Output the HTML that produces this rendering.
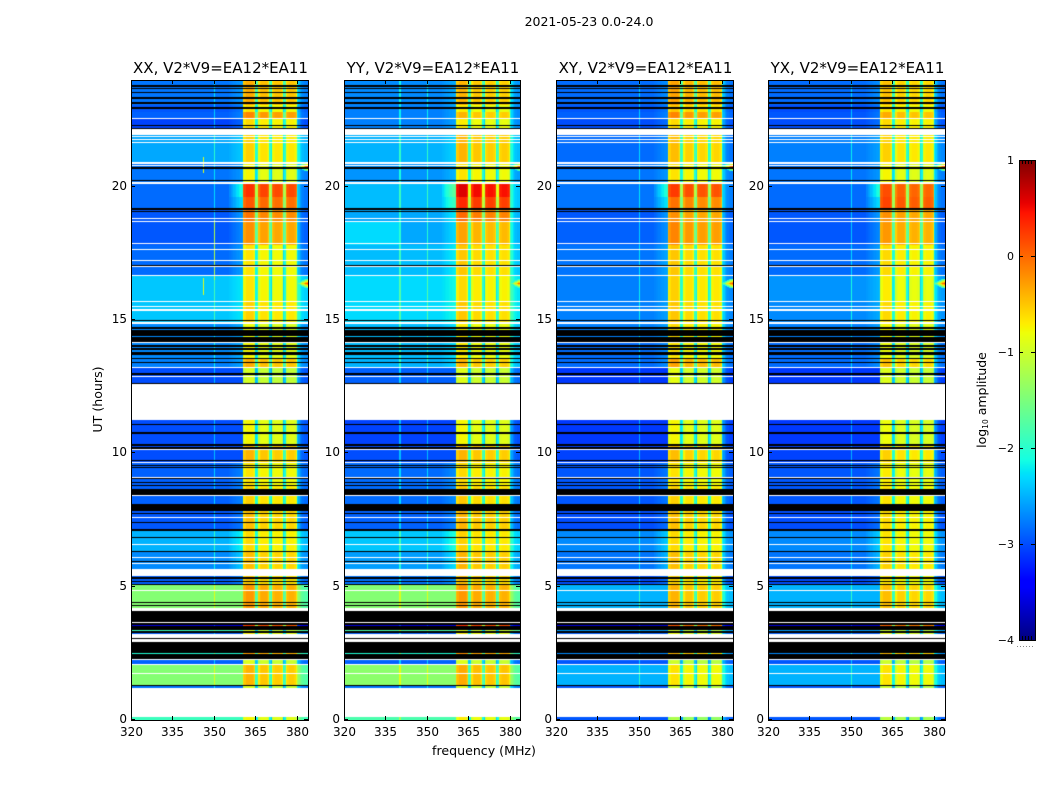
<!DOCTYPE html>
<html lang="en">
<head>
<meta charset="utf-8">
<title>2021-05-23 0.0-24.0</title>
<style>
html,body{margin:0;padding:0;background:#fff;}
#stage{position:relative;width:1050px;height:800px;overflow:hidden;background:#fff;font-family:"DejaVu Sans","Liberation Sans",sans-serif;}
canvas{position:absolute;top:80px;display:block;}
#axes{position:absolute;left:0;top:0;}
text{fill:#000;font-family:"DejaVu Sans","Liberation Sans",sans-serif;}
</style>
</head>
<body>
<div id="stage">
<canvas id="heat-xx" width="177" height="640" style="left:131px"></canvas>
<canvas id="heat-yy" width="176" height="640" style="left:344px"></canvas>
<canvas id="heat-xy" width="177" height="640" style="left:556px"></canvas>
<canvas id="heat-yx" width="177" height="640" style="left:768px"></canvas>
<svg id="axes" width="1050" height="800" xmlns="http://www.w3.org/2000/svg">
<text x="589" y="26" font-size="12.5" text-anchor="middle">2021-05-23 0.0-24.0</text>
<text x="484" y="755" font-size="12.6" text-anchor="middle">frequency (MHz)</text>
<text transform="translate(102,399.5) rotate(-90)" font-size="12.6" text-anchor="middle">UT (hours)</text>
<text transform="translate(986,400) rotate(-90)" font-size="12.5" text-anchor="middle">log<tspan font-size="7.5" dy="2">10</tspan><tspan dy="-2"> amplitude</tspan></text>
</svg>
</div>
<script>
// ---- Time bins (index 0 = 24 h at the top, 0.0375 h per bin) ----
var binCount = 640;
var binHours = 0.0375;
// flagged time ranges [fromBin, toBin)
var blackBins = [[5,7],[8,9],[12,13],[17,19],[22,24],[27,29],[45,46],[48,49],[87,89],[100,101],[128,130],[131,132],[185,186],[240,241],[247,249],[250,256],[257,262],[265,267],[268,270],[272,275],[278,279],[282,283],[293,295],[303,304],[344,345],[352,354],[364,366],[367,369],[380,381],[385,386],[387,388],[398,399],[402,403],[405,406],[409,415],[424,431],[433,434],[442,443],[449,451],[457,458],[471,472],[481,482],[497,499],[501,502],[504,505],[522,523],[525,526],[531,542],[543,545],[546,550],[551,553],[558,559],[562,573],[574,579],[605,606]];
var whiteBins = [[38,39],[49,55],[56,57],[59,60],[62,63],[82,84],[85,86],[102,104],[138,139],[141,142],[163,164],[169,170],[180,181],[186,187],[195,196],[221,222],[226,227],[229,231],[242,244],[262,263],[287,288],[296,297],[304,340],[369,370],[382,383],[397,398],[415,416],[437,438],[464,465],[477,478],[483,484],[489,496],[510,511],[528,531],[542,543],[554,558],[559,562],[579,580],[584,585],[593,594],[608,637]];

// ---- Observing epochs: last bin of each, and log10 amplitude per polarisation ----
var epochEnd = [25,32,38,49,82,103,117,128,141,165,195,222,242,263,279,287,304,364,382,405,431,449,471,489,505,528,543,545,546,550,551,554,573,574,584,605,608,637,640];
var xxLow  = [-2.8,-2.95,-2.9,-3.05,-2.55,-2.8,-2.85,-2.85,-2.95,-2.95,-2.85,-2.4,-2.4,-2.7,-2.7,-2.75,-3,-3,-3,-2.9,-2.9,-2.95,-2.5,-2.7,-2.9,-1.45,-3,-3,-3.6,-3,-1.9,-2.9,-3,-2.05,-2.9,-1.45,-2.8,-3,-1.9];
var xxBand = [-0.45,-0.75,-0.25,-0.7,-0.65,-0.85,0.2,0,-0.15,-0.3,-0.75,-0.75,-0.65,-0.9,-0.85,-0.45,-1.05,-0.85,-0.5,-0.75,-0.65,-0.55,-0.7,-0.55,-0.6,-0.35,-0.8,-0.8,0.15,-0.8,-1,-0.8,-0.8,-0.35,-1,-0.5,-1,-1,-0.85];
var yyLow  = [-2.7,-2.75,-2.75,-2.75,-2.5,-2.65,-2.45,-2.45,-2.55,-2.55,-2.45,-2.3,-2.3,-2.45,-2.45,-2.5,-2.9,-3.05,-3,-2.85,-2.85,-2.9,-2.4,-2.6,-2.8,-1.45,-3,-3,-3.6,-3,-1.8,-2.9,-3,-2.05,-2.9,-1.4,-2.8,-3,-1.8];
var yyBand = [-0.5,-0.8,-0.5,-0.8,-0.5,-0.75,0.5,0.25,-0.1,-0.4,-0.6,-0.7,-0.6,-0.8,-0.8,-0.5,-1,-0.85,-0.5,-0.7,-0.6,-0.5,-0.65,-0.5,-0.55,-0.35,-0.8,-0.8,0.2,-0.8,-1,-0.8,-0.8,-0.3,-1,-0.45,-1,-1,-0.8];
var xyLow  = [-2.85,-2.95,-2.9,-3,-2.85,-2.8,-2.8,-2.8,-2.95,-2.9,-2.8,-2.75,-2.75,-2.75,-2.85,-2.85,-3.1,-3.1,-3.05,-2.95,-2.95,-3,-2.7,-2.8,-3,-2.5,-3,-3,-3.6,-3,-2.6,-2.9,-3,-2.7,-2.95,-2.5,-2.95,-3,-2.95];
var xyBand = [-0.4,-0.6,-0.25,-0.7,-0.55,-0.75,0.15,-0.15,-0.3,-0.25,-0.6,-0.65,-0.6,-0.7,-0.75,-0.4,-0.95,-0.85,-0.55,-0.75,-0.65,-0.55,-0.7,-0.55,-0.65,-0.5,-0.9,-0.9,0,-0.9,-1.1,-0.9,-0.9,-0.5,-1.1,-0.75,-1.1,-1,-1.3];
var yxLow  = [-2.85,-3,-2.95,-3,-2.75,-2.8,-2.85,-2.85,-2.95,-2.95,-2.85,-2.65,-2.7,-2.75,-2.85,-2.85,-3.1,-3.1,-3.05,-2.95,-2.95,-3,-2.7,-2.8,-3,-2.5,-3,-3,-3.6,-3,-2.6,-2.9,-3,-2.7,-2.95,-2.5,-2.95,-3,-2.95];
var yxBand = [-0.55,-0.75,-0.45,-0.7,-0.65,-0.85,0.05,0.1,-0.3,-0.35,-0.7,-0.8,-0.7,-0.85,-0.9,-0.55,-1,-0.9,-0.65,-0.8,-0.75,-0.7,-0.75,-0.65,-0.75,-0.55,-0.9,-0.9,-0.05,-0.9,-1.1,-0.9,-0.9,-0.5,-1.1,-0.75,-1.1,-1,-1.2];
var plumeLevel = [0.2,0.2,0.2,0.2,0.2,0.2,1,0.7,0.4,0.3,0.3,0.2,0.2,0.2,0.2,0.2,0,0,0,0.2,0.2,0.2,0.4,0.4,0.2,0,0,0,0,0,0,0,0,0,0,0,0,0,0];

// ---- Channel structure (0.5 MHz channels) ----
var freqStart = 320;
var freqEnd = 384;
var channelMHz = 0.5;
// offset of each channel from 360.5 to 380 relative to the epoch band level
var bandProfile = [-0.2,-0.1,0,0,0,0,0,-0.05,-0.2, -1.5,-1.3, -0.2,-0.05,0,0,0,0,-0.05,-0.2, -1.3,-1.5, -0.2,-0.05,0,0,0,0,-0.05,-0.2, -1.5,-1.3, -0.2,-0.05,0,0,0,0,-0.05,-0.25];
var subbandBias = [0.1,0,-0.03,-0.03];
// rise above the low level for channels just below the band (355.5 to 360)
var plumeProfile = [0.15,0.25,0.3,0.4,0.45,0.55,0.6,0.7,0.75,0.85];
// rise above the low level for channels from 380 upward
var wingProfile = [0.6,0.4,0.25,0.15,0.1,0.05,0.05,0];
// extra level below 340 MHz for the patches seen in a single panel and epoch
var leftPatchPanel = [1];
var leftPatchEpoch = [9];
var leftPatchBoost = [0.25];

// ---- Narrow features ----
var rfiFreqXX = [350];
var rfiFreqYY = [340,350];
var rfiFreqXY = [350];
var rfiFreqYX = [350];
var rfiBoost = 0.55;
var burstBin = [86,203];
var burstPeak = [0.2,0.25];
var sparkFreq = [346,346,350];
var sparkFrom = [77,198,140];
var sparkTo = [93,215,200];
var sparkLevel = [-0.9,-0.9,-1.2];

// ---- Axis ticks ----
var freqTicks = [320,335,350,365,380];
var utTicks = [0,5,10,15,20];
var colorTicks = [-4,-3,-2,-1,0,1];
var panelTitles = ['XX, V2*V9=EA12*EA11','YY, V2*V9=EA12*EA11','XY, V2*V9=EA12*EA11','YX, V2*V9=EA12*EA11'];
var panelIds = ['xx','yy','xy','yx'];
var panelLeft = [131,344,556,768];
var panelWidth = [177,176,177,177];
var panelLowLevels = [xxLow,yyLow,xyLow,yxLow];
var panelBandLevels = [xxBand,yyBand,xyBand,yxBand];
var panelRfi = [rfiFreqXX,rfiFreqYY,rfiFreqXY,rfiFreqYX];

var plotTop = 80, plotBottom = 720, plotWidth = 177;
var cbLeft = 1019, cbRight = 1035, cbTop = 160, cbBottom = 640;
var vmin = -4, vmax = 1;

function xScale(f){ return (f - freqStart) * plotWidth / (freqEnd - freqStart); }
function yScale(ut){ return plotBottom - ut * (plotBottom - plotTop) / 24; }
function binTopUT(b){ return 24 - b * binHours; }
function cbScale(v){ return cbBottom - (v - vmin) * (cbBottom - cbTop) / (vmax - vmin); }

function ramp(t, pts){
  for (var i = 1; i < pts.length; i++) {
    if (t <= pts[i][0]) {
      var a = pts[i-1], b = pts[i];
      return a[1] + (b[1]-a[1]) * (t-a[0]) / (b[0]-a[0]);
    }
  }
  return pts[pts.length-1][1];
}
function jet(v){
  var t = Math.max(0, Math.min(1, (v - vmin) / (vmax - vmin)));
  var r = ramp(t, [[0,0],[0.35,0],[0.66,1],[0.89,1],[1,0.5]]);
  var g = ramp(t, [[0,0],[0.125,0],[0.375,1],[0.64,1],[0.91,0],[1,0]]);
  var b = ramp(t, [[0,0.5],[0.11,1],[0.34,1],[0.65,0],[1,0]]);
  return 'rgb(' + Math.round(r*255) + ',' + Math.round(g*255) + ',' + Math.round(b*255) + ')';
}
function inRanges(b, ranges){
  for (var i = 0; i < ranges.length; i++) { if (b >= ranges[i][0] && b < ranges[i][1]) return true; }
  return false;
}
function epochOf(b){
  for (var i = 0; i < epochEnd.length; i++) { if (b < epochEnd[i]) return i; }
  return epochEnd.length - 1;
}
function leftBoost(pi, ep){
  for (var i = 0; i < leftPatchPanel.length; i++) {
    if (leftPatchPanel[i] === pi && leftPatchEpoch[i] === ep) return leftPatchBoost[i];
  }
  return 0;
}
function channelValue(f, low, band, plume, rfi, left){
  if (f >= 360.5 && f < 380) {
    var idx = Math.round((f - 360.5) / channelMHz);
    var sub = f < 365.5 ? 0 : f < 370.5 ? 1 : f < 375.5 ? 2 : 3;
    return band + bandProfile[idx] + subbandBias[sub];
  }
  if (f >= 380) {
    var w = Math.round((f - 380) / channelMHz);
    return Math.min(low, -1.8) + (w < wingProfile.length ? wingProfile[w] : 0);
  }
  if (f >= 355.5) {
    var p = Math.round((f - 355.5) / channelMHz);
    return low + plume * plumeProfile[p];
  }
  for (var i = 0; i < rfi.length; i++) { if (f === rfi[i]) return low + rfiBoost; }
  return f < 340 ? low + left : low;
}
function drawPanel(pi){
  var cv = document.getElementById('heat-' + panelIds[pi]);
  var ctx = cv.getContext('2d');
  ctx.fillStyle = '#fff';
  ctx.fillRect(0, 0, cv.width, cv.height);
  var nChan = Math.round((freqEnd - freqStart) / channelMHz);
  var b = 0;
  while (b < binCount) {
    var black = inRanges(b, blackBins), white = inRanges(b, whiteBins);
    var ep = epochOf(b), e = b + 1;
    while (e < binCount && inRanges(e, blackBins) === black && inRanges(e, whiteBins) === white && epochOf(e) === ep) e++;
    var y0 = Math.round(yScale(binTopUT(b))) - plotTop, y1 = Math.round(yScale(binTopUT(e))) - plotTop;
    if (white) {
      ctx.fillStyle = '#fff';
      ctx.fillRect(0, y0, plotWidth, y1 - y0);
    } else if (black) {
      ctx.fillStyle = '#000';
      ctx.fillRect(0, y0, plotWidth, y1 - y0);
    } else {
      for (var c = 0; c < nChan; c++) {
        var f = freqStart + c * channelMHz;
        var x0 = Math.round(xScale(f)), x1 = Math.round(xScale(f + channelMHz));
        if (x1 <= x0) continue;
        ctx.fillStyle = jet(channelValue(f, panelLowLevels[pi][ep], panelBandLevels[pi][ep], plumeLevel[ep], panelRfi[pi], leftBoost(pi, ep)));
        ctx.fillRect(x0, y0, x1 - x0, y1 - y0);
      }
    }
    b = e;
  }
  // right-edge bursts
  for (var k = 0; k < burstBin.length; k++) {
    for (var dr = -4; dr <= 4; dr++) {
      var row = burstBin[k] + dr;
      if (inRanges(row, whiteBins) || inRanges(row, blackBins)) continue;
      for (var d = 0; d < 8; d++) {
        var val = burstPeak[k] - 0.3 * d - 0.45 * Math.abs(dr);
        if (val < -2.2) continue;
        var fb = freqEnd - (d + 1) * channelMHz;
        var ry = Math.round(yScale(binTopUT(row))) - plotTop;
        ctx.fillStyle = jet(val);
        ctx.fillRect(Math.round(xScale(fb)), ry, Math.max(1, Math.round(xScale(fb + channelMHz)) - Math.round(xScale(fb))), 1);
      }
    }
  }
  // short vertical features in XX
  if (pi === 0) {
    for (var s = 0; s < sparkFreq.length; s++) {
      for (var r2 = sparkFrom[s]; r2 < sparkTo[s]; r2++) {
        if (inRanges(r2, whiteBins) || inRanges(r2, blackBins)) continue;
        ctx.fillStyle = jet(sparkLevel[s]);
        ctx.fillRect(Math.round(xScale(sparkFreq[s])), Math.round(yScale(binTopUT(r2))) - plotTop, 1, 1);
      }
    }
  }
}

var svgNS = 'http://www.w3.org/2000/svg';
var axesSvg = document.getElementById('axes');
function addLine(x1, y1, x2, y2, name){
  var l = document.createElementNS(svgNS, 'line');
  l.setAttribute('x1', x1);
  l.setAttribute('y1', y1);
  l.setAttribute('x2', x2);
  l.setAttribute('y2', y2);
  l.setAttribute('stroke', '#000');
  l.setAttribute('stroke-width', '1');
  
  
  axesSvg.appendChild(l);
}
function addText(x, y, str, anchor, size, name){
  var t = document.createElementNS(svgNS, 'text');
  t.setAttribute('x', x);
  t.setAttribute('y', y);
  t.setAttribute('text-anchor', anchor);
  t.setAttribute('font-size', size);
  
  
  t.textContent = str;
  axesSvg.appendChild(t);
}
function addFrame(x, y, w, h, name){
  var r = document.createElementNS(svgNS, 'rect');
  r.setAttribute('x', x);
  r.setAttribute('y', y);
  r.setAttribute('width', w);
  r.setAttribute('height', h);
  r.setAttribute('fill', 'none');
  r.setAttribute('stroke', '#000');
  r.setAttribute('stroke-width', '1');
  
  
  axesSvg.appendChild(r);
}

panelIds.forEach(function(id, pi){
  drawPanel(pi);
  var L = panelLeft[pi], W = panelWidth[pi];
  addFrame(L + 0.5, plotTop + 0.5, W, plotBottom - plotTop, 'panel-frame-' + id);
  addText(L + W / 2 + 1, 73, panelTitles[pi], 'middle', 15, 'panel-title-' + id);
  freqTicks.forEach(function(f){
    var x = Math.round(L + xScale(f)) + 0.5;
    addLine(x, plotBottom, x, plotBottom - 4, 'x-tick-' + id + '-' + f);
    addLine(x, plotTop, x, plotTop + 4, 'x-tick-top-' + id + '-' + f);
    addText(x, 736, String(f), 'middle', 12, 'x-tick-label-' + id + '-' + f);
  });
  utTicks.forEach(function(u){
    var y = Math.round(yScale(u)) - 0.5;
    addLine(L, y, L + 4, y, 'y-tick-' + id + '-' + u);
    addLine(L + W, y, L + W - 4, y, 'y-tick-right-' + id + '-' + u);
    addText(L - 4, y + 3.5, String(u), 'end', 12, 'y-tick-label-' + id + '-' + u);
  });
});

// colour bar
(function(){
  for (var y = cbTop; y < cbBottom; y++) {
    var r = document.createElementNS(svgNS, 'rect');
    var level = vmax - (y + 0.5 - cbTop) * (vmax - vmin) / (cbBottom - cbTop);
    r.setAttribute('x', cbLeft);
    r.setAttribute('y', y);
    r.setAttribute('width', cbRight - cbLeft);
    r.setAttribute('height', 1);
    r.setAttribute('fill', jet(level));
    
    
    axesSvg.appendChild(r);
  }
  addFrame(cbLeft + 0.5, cbTop + 0.5, cbRight - cbLeft, cbBottom - cbTop, 'colorbar-frame');
  colorTicks.forEach(function(v){
    var y = Math.round(cbScale(v)) + 0.5;
    addLine(cbLeft, y, cbLeft + 4, y, 'colorbar-tick');
    addLine(cbRight, y, cbRight - 4, y, 'colorbar-tick-right');
    addText(cbLeft - 5, y + 3.5, (v < 0 ? '\u2212' + Math.abs(v) : String(v)), 'end', 11, 'colorbar-tick-label');
  });
  for (var x = cbLeft + 3; x < cbRight - 1; x += 3) {
    addLine(x + 0.5, cbTop, x + 0.5, cbTop + 4, 'colorbar-minor-tick-top');
    addLine(x + 0.5, cbBottom, x + 0.5, cbBottom - 4, 'colorbar-minor-tick-bottom');
  }
  var dots = document.createElementNS(svgNS, 'line');
  dots.setAttribute('x1', 1017);
  dots.setAttribute('y1', 646.5);
  dots.setAttribute('x2', 1035);
  dots.setAttribute('y2', 646.5);
  dots.setAttribute('stroke', '#888');
  dots.setAttribute('stroke-width', '1');
  dots.setAttribute('stroke-dasharray', '1 2');
  
  
  axesSvg.appendChild(dots);
})();
</script>
</body>
</html>
